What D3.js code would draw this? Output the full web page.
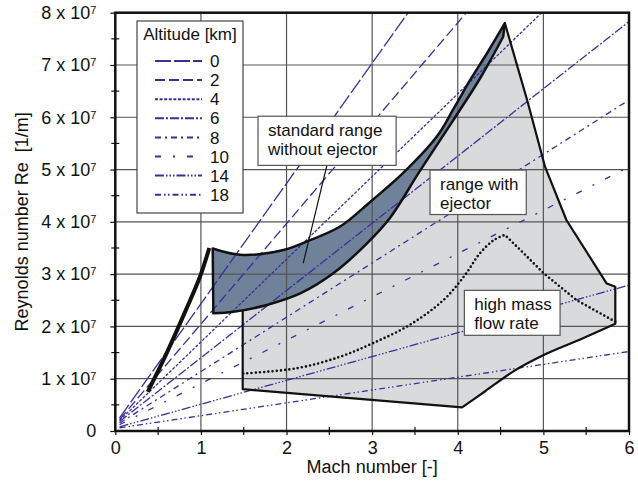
<!DOCTYPE html>
<html>
<head>
<meta charset="utf-8">
<script src="https://cdn.jsdelivr.net/npm/d3@7"></script>
<style>
body { margin: 0; background: #fff; }
text { font-family: "Liberation Sans", Arial, sans-serif; fill: #111; }
</style>
</head>
<body>
<svg id="chart"></svg>
<script>
// Reynolds numbers are given in units of 10^7 1/m
var altitudes = ["0", "2", "4", "6", "8", "10", "14", "18"];
var altStart = [[0.05, 0.25], [0.05, 0.22], [0.05, 0.2], [0.05, 0.18], [0.05, 0.15], [0.05, 0.12], [0.05, 0.08], [0.05, 0.06]];
var altEnd = [[3.42, 8.0], [4.10, 8.0], [4.98, 8.0], [6, 7.83], [6, 6.33], [6, 5.05], [6, 2.79], [6, 1.52]];

// thick line, subsonic range
var subsonic = [[0.379, 0.75], [0.60, 1.49], [0.834, 2.35], [0.989, 2.95], [1.098, 3.50]];

// standard range without ejector
var stdUpper = [[1.138, 3.49], [1.457, 3.37], [1.963, 3.46], [2.275, 3.65], [2.625, 3.91], [2.99, 4.40],
    [3.36, 4.93], [3.755, 5.63], [3.95, 6.16], [4.14, 6.70], [4.34, 7.22], [4.55, 7.80]];
var stdLower = [[1.145, 2.25], [1.38, 2.28], [1.77, 2.41], [2.16, 2.63], [2.55, 3.02], [2.94, 3.59],
    [3.21, 4.08], [3.56, 4.98], [3.95, 5.95], [4.27, 6.77], [4.53, 7.54]];

// range with ejector: right side from the peak, curved bottom, straight bottom and left edge
var ejectorSide = [[4.55, 7.80], [4.81, 6.33], [5.02, 5.05], [5.27, 4.03], [5.74, 2.82], [5.84, 2.76], [5.84, 2.05]];
var ejectorBottom = [[5.84, 2.05], [5.43, 1.75], [5.04, 1.48], [4.65, 1.14], [4.32, 0.76], [4.05, 0.45]];
var ejectorLeft = [[4.05, 0.45], [1.488, 0.80], [1.488, 2.31]];

// high mass flow rate
var highMassRise = [[1.495, 1.10], [2.12, 1.20], [2.625, 1.42], [3.01, 1.68], [3.44, 2.03], [3.83, 2.50],
    [4.07, 2.95], [4.26, 3.40], [4.42, 3.65], [4.55, 3.75]];
var highMassFall = [[4.55, 3.75], [4.77, 3.40], [5.0, 3.02], [5.39, 2.50], [5.84, 2.09]];

var xTicks = [0, 1, 2, 3, 4, 5, 6];
var yTicks = [0, 1, 2, 3, 4, 5, 6, 7, 8];
var xMinor = [0.5, 1.5, 2.5, 3.5, 4.5, 5.5];
var yMinor = [0.5, 1.5, 2.5, 3.5, 4.5, 5.5, 6.5, 7.5];

var labels = [
    {lines: ["standard range", "without ejector"], box: [1.667, 6.02, 3.28, 5.08], leader: [[2.47, 5.07], [2.195, 3.21]]},
    {lines: ["range with", "ejector"], box: [3.676, 4.99, 4.80, 4.14]},
    {lines: ["high mass", "flow rate"], box: [4.077, 2.69, 5.195, 1.83]}
];

var dashes = ["16,3", "10,4", "3,1.6", "9,2,2,2", "6,4,2,4", "6,12,2,12", "9,2,1.5,2,1.5,2,1.5,2", "6,3,1.5,2.5,1.5,3"];
var lineColor = "#3a2e9c";

var W = 638, H = 489;
var margin = {top: 12.7, right: 9, bottom: 58, left: 115.3};
var width = W - margin.left - margin.right,
    height = H - margin.top - margin.bottom;

var svg = d3.select("#chart").attr("width", W).attr("height", H);
var g = svg.append("g").attr("transform", "translate(" + margin.left + "," + margin.top + ")");

var x = d3.scaleLinear().domain([0, 6]).range([0, width]);
var y = d3.scaleLinear().domain([0, 8]).range([height, 0]);

var line = d3.line().x(function(d) { return x(d[0]); }).y(function(d) { return y(d[1]); });
var smooth = d3.line().x(function(d) { return x(d[0]); }).y(function(d) { return y(d[1]); })
    .curve(d3.curveCatmullRom.alpha(0.5));
function cont(p) { return "L" + p.slice(1); }

g.append("defs").append("clipPath").attr("id", "clip")
    .append("rect").attr("width", width).attr("height", height);

// regions
var lowerRight = stdLower.filter(function(d) { return d[0] >= 1.488; });
var ejectorPath = line([ejectorLeft[2]].concat(lowerRight.slice(0, 1))) + cont(smooth(lowerRight))
    + cont(line(ejectorSide)) + cont(smooth(ejectorBottom)) + cont(line(ejectorLeft)) + "Z";
g.append("path").attr("d", ejectorPath).attr("fill", "#d9dadb");

var stdPath = smooth(stdUpper) + cont(smooth(stdLower.slice(0).reverse())) + "Z";
g.append("path").attr("d", stdPath).attr("fill", "#6f8299");

// grid
g.selectAll(".gx").data(xTicks.slice(1, -1)).enter().append("line")
    .attr("x1", function(d) { return x(d); }).attr("x2", function(d) { return x(d); })
    .attr("y1", 0).attr("y2", height)
    .attr("stroke", "#555").attr("stroke-width", 1.2);
g.selectAll(".gy").data(yTicks.slice(1, -1)).enter().append("line")
    .attr("y1", function(d) { return y(d); }).attr("y2", function(d) { return y(d); })
    .attr("x1", 0).attr("x2", width)
    .attr("stroke", "#555").attr("stroke-width", 1.2);

// altitude lines
var alt = g.append("g").attr("clip-path", "url(#clip)");
altitudes.forEach(function(a, i) {
    alt.append("path")
        .attr("d", line([altStart[i], altEnd[i]]))
        .attr("fill", "none")
        .attr("stroke", lineColor)
        .attr("stroke-width", 1.3)
        .attr("stroke-dasharray", dashes[i]);
});

// outlines
g.append("path").attr("d", line(ejectorSide) + cont(smooth(ejectorBottom)) + cont(line(ejectorLeft)))
    .attr("fill", "none").attr("stroke", "#111").attr("stroke-width", 2.2).attr("stroke-linejoin", "round");
g.append("path").attr("d", stdPath)
    .attr("fill", "none").attr("stroke", "#111").attr("stroke-width", 2.5).attr("stroke-linejoin", "round");
g.append("path").attr("d", smooth(subsonic))
    .attr("fill", "none").attr("stroke", "#111").attr("stroke-width", 4);
g.append("path").attr("d", smooth(highMassRise) + cont(line(highMassFall)))
    .attr("fill", "none").attr("stroke", "#111").attr("stroke-width", 2.6)
    .attr("stroke-dasharray", "0,4.2").attr("stroke-linecap", "round");

// annotation boxes
labels.forEach(function(l) {
    if (l.leader) {
        g.append("path").attr("d", line(l.leader)).attr("stroke", "#111").attr("stroke-width", 1.2);
    }
    var x0 = x(l.box[0]), y0 = y(l.box[1]), x1 = x(l.box[2]), y1 = y(l.box[3]);
    g.append("rect").attr("x", x0).attr("y", y0).attr("width", x1 - x0).attr("height", y1 - y0)
        .attr("fill", "#fff").attr("stroke", "#555").attr("stroke-width", 1.2);
    l.lines.forEach(function(t, j) {
        g.append("text").attr("x", x0 + 10).attr("y", y0 + 20 + j * 19)
            .style("font-size", "17px").text(t);
    });
});

// frame
g.append("rect").attr("width", width).attr("height", height)
    .attr("fill", "none").attr("stroke", "#111").attr("stroke-width", 2.5);

// axes
var xAxis = d3.axisBottom(x).tickValues(xTicks).tickSize(4).tickPadding(6).tickFormat(d3.format("d"));
var gx = g.append("g").attr("transform", "translate(0," + height + ")").call(xAxis);
var yAxis = d3.axisLeft(y).tickValues(yTicks).tickSize(5).tickPadding(14);
var gy = g.append("g").call(yAxis);
[gx, gy].forEach(function(a) {
    a.select(".domain").remove();
    a.selectAll("line").attr("stroke", "#111").attr("stroke-width", 1.2);
    a.selectAll("text").style("font-size", "18px").attr("fill", "#111");
});
gy.selectAll("text").each(function(d) {
    var t = d3.select(this).text(null);
    if (d === 0) { t.text("0"); return; }
    t.append("tspan").text(d + " x 10");
    t.append("tspan").attr("dy", "-0.45em").style("font-size", "11px").text("7");
});

g.selectAll(".mx").data(xMinor).enter().append("line")
    .attr("x1", function(d) { return x(d); }).attr("x2", function(d) { return x(d); })
    .attr("y1", height - 4).attr("y2", height + 4)
    .attr("stroke", "#111").attr("stroke-width", 1.2);
g.selectAll(".my").data(yMinor).enter().append("line")
    .attr("y1", function(d) { return y(d); }).attr("y2", function(d) { return y(d); })
    .attr("x1", -4).attr("x2", 4)
    .attr("stroke", "#111").attr("stroke-width", 1.2);

// axis titles
g.append("text").attr("x", width / 2).attr("y", height + 42)
    .attr("text-anchor", "middle").style("font-size", "18px").text("Mach number [-]");
g.append("text").attr("transform", "translate(-87," + (height / 2) + ") rotate(-90)")
    .attr("text-anchor", "middle").style("font-size", "18px").text("Reynolds number Re\u00a0 [1/m]");

// legend
var leg = svg.append("g").attr("transform", "translate(137,21)");
leg.append("rect").attr("width", 106).attr("height", 192)
    .attr("fill", "#fff").attr("stroke", "#444").attr("stroke-width", 1.2);
leg.append("text").attr("x", 53).attr("y", 19).attr("text-anchor", "middle")
    .style("font-size", "17px").text("Altitude [km]");
altitudes.forEach(function(a, i) {
    var yy = 40 + i * 19.1;
    leg.append("line").attr("x1", 18).attr("x2", 65).attr("y1", yy).attr("y2", yy)
        .attr("stroke", lineColor).attr("stroke-width", 2)
        .attr("stroke-dasharray", dashes[i]);
    leg.append("text").attr("x", 73).attr("y", yy).attr("dy", "0.36em")
        .style("font-size", "17px").text(a);
});
</script>
</body>
</html>
